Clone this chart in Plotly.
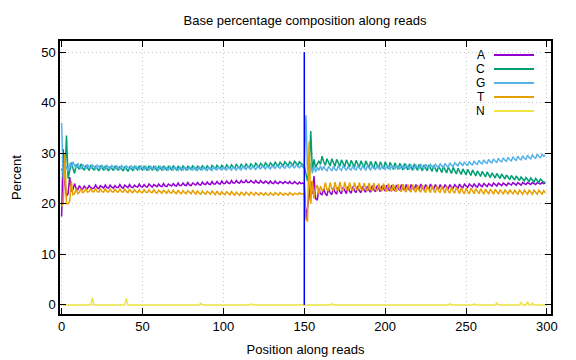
import plotly.graph_objects as go

positions = list(range(300))

A_pct = [
    17.5, 30.8, 24.0, 21.5, 22.0, 25.3, 22.5, 22.8, 24.0, 23.0,
    22.8, 23.6, 23.0, 22.9, 23.5, 23.1, 23.0, 23.6, 23.2, 23.0,
    23.1, 23.7, 23.2, 23.0, 23.6, 23.3, 23.1, 23.7, 23.2, 23.1,
    23.7, 23.3, 23.1, 23.6, 23.2, 23.2, 23.8, 23.3, 23.1, 23.7,
    23.4, 23.2, 23.8, 23.3, 23.2, 23.7, 23.4, 23.3, 23.9, 23.4,
    23.3, 23.8, 23.4, 23.3, 23.9, 23.5, 23.3, 23.8, 23.5, 23.4,
    23.9, 23.5, 23.4, 24.0, 23.5, 23.4, 23.9, 23.6, 23.5, 24.0,
    23.6, 23.5, 24.1, 23.6, 23.6, 24.1, 23.7, 23.6, 24.2, 23.7,
    23.6, 24.1, 23.8, 23.7, 24.2, 23.8, 23.7, 24.3, 23.9, 23.8,
    24.3, 23.9, 23.8, 24.4, 23.9, 23.9, 24.4, 24.0, 23.9, 24.5,
    24.0, 24.0, 24.5, 24.1, 24.0, 24.6, 24.1, 24.1, 24.6, 24.2,
    24.1, 24.6, 24.2, 24.2, 24.7, 24.2, 24.2, 24.6, 24.3, 24.1,
    24.6, 24.2, 24.1, 24.6, 24.2, 24.1, 24.5, 24.2, 24.0, 24.5,
    24.1, 24.0, 24.5, 24.1, 24.0, 24.4, 24.1, 24.0, 24.4, 24.1,
    24.0, 24.4, 24.0, 24.0, 24.4, 24.1, 23.9, 24.3, 24.0, 24.1,
    24.0, 17.0, 19.0, 21.5, 24.5, 22.0, 25.5, 21.0, 20.7, 23.0,
    22.0, 21.8, 23.0, 22.0, 21.6, 23.0, 22.2, 21.8, 23.2, 22.3,
    21.9, 23.3, 22.4, 22.0, 23.3, 22.5, 22.0, 23.4, 22.5, 22.1,
    23.4, 22.6, 22.2, 23.5, 22.6, 22.2, 23.5, 22.7, 22.3, 23.5,
    22.7, 22.3, 23.6, 22.8, 22.4, 23.6, 22.8, 22.4, 23.6, 22.9,
    22.5, 23.7, 22.9, 22.5, 23.7, 22.9, 22.6, 23.7, 23.0, 22.6,
    23.8, 23.0, 22.7, 23.8, 23.0, 22.7, 23.8, 23.1, 22.8, 23.8,
    23.1, 22.8, 23.9, 23.1, 22.8, 23.8, 23.2, 22.9, 23.9, 23.2,
    22.9, 23.8, 23.2, 22.9, 23.8, 23.2, 23.0, 23.8, 23.3, 23.0,
    23.8, 23.3, 23.1, 23.8, 23.4, 23.1, 23.9, 23.4, 23.2, 23.9,
    23.5, 23.2, 23.9, 23.5, 23.3, 24.0, 23.5, 23.3, 24.0, 23.6,
    23.4, 24.0, 23.6, 23.4, 24.0, 23.7, 23.5, 24.1, 23.7, 23.5,
    24.1, 23.8, 23.6, 24.1, 23.8, 23.6, 24.1, 23.8, 23.7, 24.2,
    23.9, 23.7, 24.2, 23.9, 23.7, 24.2, 24.0, 23.8, 24.2, 24.0,
    23.8, 24.2, 24.0, 23.8, 24.2, 24.0, 23.9, 24.2, 24.0, 24.1,
]

C_pct = [
    27.0, 26.0, 25.0, 33.5, 25.0, 26.5, 28.2, 27.0, 26.0, 27.8,
    27.2, 26.8, 27.9, 27.0, 26.7, 27.6, 27.1, 26.6, 27.7, 27.0,
    26.7, 27.5, 27.0, 26.5, 27.6, 27.1, 26.6, 27.5, 27.0, 26.5,
    27.4, 27.0, 26.6, 27.5, 27.1, 26.6, 27.4, 27.0, 26.5, 27.4,
    27.0, 26.4, 27.3, 27.0, 26.6, 27.4, 27.1, 26.7, 27.5, 27.0,
    26.6, 27.4, 27.0, 26.6, 27.5, 27.1, 26.7, 27.4, 27.0, 26.6,
    27.4, 27.1, 26.7, 27.5, 27.0, 26.6, 27.4, 27.1, 26.7, 27.5,
    27.1, 26.7, 27.4, 27.0, 26.7, 27.5, 27.1, 26.7, 27.4, 27.1,
    26.8, 27.5, 27.1, 26.7, 27.4, 27.1, 26.8, 27.5, 27.2, 26.8,
    27.5, 27.2, 26.8, 27.6, 27.2, 26.9, 27.6, 27.2, 26.9, 27.6,
    27.3, 26.9, 27.7, 27.3, 27.0, 27.7, 27.3, 27.0, 27.8, 27.4,
    27.0, 27.8, 27.4, 27.1, 27.9, 27.4, 27.1, 27.9, 27.5, 27.2,
    28.0, 27.5, 27.2, 28.0, 27.6, 27.3, 28.1, 27.6, 27.3, 28.1,
    27.7, 27.4, 28.2, 27.7, 27.4, 28.2, 27.8, 27.5, 28.3, 27.8,
    27.5, 28.3, 27.9, 27.6, 28.4, 27.9, 27.6, 28.3, 27.9, 27.7,
    27.5, 26.0, 24.5, 27.0, 34.4, 26.5, 28.8, 27.2, 28.0, 28.5,
    27.8, 29.4, 28.3, 27.6, 28.9, 28.2, 27.5, 28.9, 28.1, 27.4,
    28.8, 28.0, 27.4, 28.7, 28.0, 27.3, 28.7, 27.9, 27.3, 28.6,
    27.9, 27.2, 28.6, 27.8, 27.2, 28.5, 27.8, 27.1, 28.5, 27.7,
    27.1, 28.4, 27.7, 27.0, 28.4, 27.6, 27.0, 28.3, 27.6, 26.9,
    28.3, 27.5, 26.9, 28.2, 27.5, 26.8, 28.1, 27.4, 26.8, 28.0,
    27.4, 26.7, 28.0, 27.3, 26.7, 27.9, 27.3, 26.6, 27.9, 27.2,
    26.6, 27.8, 27.2, 26.5, 27.7, 27.1, 26.5, 27.7, 27.0, 26.4,
    27.6, 26.9, 26.3, 27.5, 26.8, 26.2, 27.4, 26.7, 26.1, 27.3,
    26.6, 26.0, 27.2, 26.5, 25.9, 27.0, 26.4, 25.8, 26.9, 26.3,
    25.7, 26.8, 26.1, 25.6, 26.7, 26.0, 25.5, 26.5, 25.9, 25.4,
    26.4, 25.8, 25.3, 26.3, 25.7, 25.2, 26.1, 25.5, 25.1, 26.0,
    25.4, 25.0, 25.9, 25.3, 24.9, 25.7, 25.2, 24.8, 25.6, 25.1,
    24.7, 25.5, 25.0, 24.6, 25.3, 24.9, 24.5, 25.2, 24.8, 24.4,
    25.1, 24.7, 24.3, 25.0, 24.6, 24.2, 24.9, 24.5, 24.2, 24.3,
]

G_pct = [
    36.0, 25.0, 26.0, 27.5, 26.5, 28.0, 27.2, 28.3, 27.6, 27.0,
    28.0, 27.3, 27.0, 27.8, 27.3, 26.9, 27.8, 27.2, 27.0, 27.7,
    27.3, 26.9, 27.7, 27.2, 26.9, 27.6, 27.2, 26.8, 27.6, 27.2,
    26.9, 27.6, 27.1, 26.8, 27.5, 27.2, 26.8, 27.6, 27.1, 26.8,
    27.5, 27.1, 26.8, 27.5, 27.1, 26.8, 27.5, 27.0, 26.8, 27.5,
    27.1, 26.8, 27.4, 27.0, 26.7, 27.4, 27.1, 26.8, 27.4, 27.0,
    26.7, 27.4, 27.0, 26.7, 27.3, 27.0, 26.7, 27.4, 27.0, 26.7,
    27.3, 26.9, 26.6, 27.3, 27.0, 26.7, 27.3, 26.9, 26.7, 27.3,
    27.0, 26.7, 27.3, 26.9, 26.6, 27.3, 27.0, 26.7, 27.3, 26.9,
    26.6, 27.2, 26.9, 26.6, 27.3, 27.0, 26.7, 27.3, 26.9, 26.7,
    27.3, 27.0, 26.7, 27.3, 26.9, 26.7, 27.3, 27.0, 26.7, 27.3,
    27.0, 26.7, 27.4, 27.0, 26.8, 27.4, 27.0, 26.8, 27.4, 27.1,
    26.8, 27.4, 27.1, 26.9, 27.5, 27.1, 26.9, 27.5, 27.2, 26.9,
    27.5, 27.2, 27.0, 27.6, 27.2, 27.0, 27.6, 27.3, 27.0, 27.6,
    27.3, 27.1, 27.7, 27.3, 27.1, 27.7, 27.4, 27.1, 27.6, 27.3,
    27.0, 37.5, 27.0, 25.5, 28.0, 26.0, 27.5, 26.3, 27.2, 26.6,
    27.5, 26.6, 27.4, 26.8, 26.5, 27.4, 26.8, 26.5, 27.4, 26.8,
    26.6, 27.5, 26.9, 26.6, 27.5, 26.9, 26.6, 27.4, 26.9, 26.7,
    27.5, 26.9, 26.7, 27.5, 27.0, 26.7, 27.5, 27.0, 26.7, 27.5,
    27.0, 26.7, 27.5, 27.0, 26.8, 27.5, 27.0, 26.8, 27.6, 27.1,
    26.8, 27.6, 27.1, 26.8, 27.6, 27.1, 26.9, 27.6, 27.1, 26.9,
    27.6, 27.2, 26.9, 27.7, 27.2, 26.9, 27.7, 27.2, 27.0, 27.7,
    27.2, 27.0, 27.8, 27.3, 27.0, 27.8, 27.3, 27.1, 27.8, 27.4,
    27.1, 27.9, 27.4, 27.2, 27.9, 27.5, 27.2, 28.0, 27.5, 27.3,
    28.1, 27.6, 27.4, 28.1, 27.7, 27.5, 28.2, 27.8, 27.6, 28.3,
    27.8, 27.6, 28.4, 27.9, 27.7, 28.5, 28.0, 27.8, 28.6, 28.1,
    27.9, 28.7, 28.2, 28.0, 28.8, 28.3, 28.1, 28.9, 28.4, 28.2,
    29.0, 28.5, 28.3, 29.1, 28.6, 28.4, 29.2, 28.7, 28.5, 29.3,
    28.8, 28.6, 29.4, 28.9, 28.7, 29.5, 29.0, 28.8, 29.6, 29.1,
    28.9, 29.7, 29.2, 29.0, 29.8, 29.3, 29.1, 29.8, 29.4, 29.6,
]

T_pct = [
    19.5, 20.0, 30.0, 20.0, 20.0, 20.5, 24.5, 21.8, 22.0, 23.0,
    22.0, 22.3, 23.0, 22.2, 22.4, 23.0, 22.3, 22.4, 23.0, 22.4,
    22.4, 23.0, 22.4, 22.3, 22.9, 22.4, 22.3, 23.0, 22.4, 22.3,
    22.9, 22.4, 22.3, 22.9, 22.4, 22.3, 22.9, 22.4, 22.3, 22.9,
    22.4, 22.2, 22.9, 22.4, 22.2, 22.8, 22.4, 22.2, 22.8, 22.3,
    22.2, 22.8, 22.3, 22.2, 22.8, 22.3, 22.2, 22.8, 22.3, 22.1,
    22.7, 22.3, 22.1, 22.7, 22.3, 22.1, 22.7, 22.2, 22.1, 22.7,
    22.2, 22.0, 22.7, 22.2, 22.0, 22.6, 22.2, 22.0, 22.6, 22.2,
    22.0, 22.6, 22.2, 21.9, 22.6, 22.1, 21.9, 22.5, 22.1, 21.9,
    22.5, 22.1, 21.9, 22.5, 22.1, 21.8, 22.5, 22.0, 21.8, 22.4,
    22.0, 21.8, 22.4, 22.0, 21.8, 22.4, 22.0, 21.7, 22.3, 21.9,
    21.7, 22.3, 21.9, 21.7, 22.3, 21.9, 21.7, 22.3, 21.9, 21.7,
    22.2, 21.9, 21.7, 22.2, 21.9, 21.7, 22.2, 21.8, 21.7, 22.2,
    21.9, 21.7, 22.2, 21.9, 21.7, 22.2, 21.9, 21.7, 22.1, 21.9,
    21.7, 22.2, 21.9, 21.7, 22.1, 21.9, 21.8, 22.2, 21.9, 22.0,
    22.0, 17.0, 16.5, 32.3, 20.0, 24.5, 21.0, 23.0, 23.7, 22.0,
    23.5, 22.6, 22.8, 24.2, 22.8, 22.6, 24.2, 22.9, 22.6, 24.3,
    22.9, 22.6, 24.3, 23.0, 22.6, 24.3, 23.0, 22.6, 24.2, 23.0,
    22.6, 24.2, 23.0, 22.6, 24.2, 23.0, 22.6, 24.1, 23.0, 22.5,
    24.1, 22.9, 22.5, 24.1, 22.9, 22.5, 24.0, 22.9, 22.5, 24.0,
    22.9, 22.4, 24.0, 22.9, 22.4, 23.9, 22.8, 22.4, 23.9, 22.8,
    22.4, 23.9, 22.8, 22.3, 23.8, 22.8, 22.3, 23.8, 22.7, 22.3,
    23.7, 22.7, 22.3, 23.7, 22.7, 22.2, 23.6, 22.7, 22.2, 23.6,
    22.6, 22.2, 23.5, 22.6, 22.2, 23.5, 22.6, 22.1, 23.4, 22.5,
    22.1, 23.3, 22.5, 22.1, 23.3, 22.5, 22.0, 23.2, 22.4, 22.0,
    23.1, 22.4, 22.0, 23.1, 22.4, 22.0, 23.0, 22.4, 22.0, 23.0,
    22.3, 21.9, 22.9, 22.3, 21.9, 22.9, 22.3, 21.9, 22.9, 22.3,
    21.9, 22.8, 22.3, 21.9, 22.8, 22.2, 21.9, 22.8, 22.2, 21.9,
    22.7, 22.2, 21.9, 22.7, 22.2, 21.9, 22.7, 22.2, 21.9, 22.7,
    22.2, 21.9, 22.7, 22.2, 21.9, 22.7, 22.2, 21.9, 22.6, 22.2,
]

N_peak_positions = [19, 40, 86, 117, 167, 240, 255, 269, 284, 288, 291]
N_peak_values = [1.4, 1.3, 0.3, 0.15, 0.25, 0.25, 0.2, 0.4, 0.5, 0.6, 0.3]
N_pct = [0.0] * len(positions)
for p, v in zip(N_peak_positions, N_peak_values):
    N_pct[p] = v

read_boundary_x = [150, 150]
read_boundary_y = [0, 50]

bases = ["A", "C", "G", "T", "N"]
series = [A_pct, C_pct, G_pct, T_pct, N_pct]
colors = ["#9400d3", "#009e73", "#56b4e9", "#e69f00", "#f0e442"]

fig = go.Figure()
for name, vals, col in zip(bases, series, colors):
    fig.add_trace(go.Scatter(x=positions, y=vals, mode="lines", name=name,
                             line=dict(color=col, width=1.5), showlegend=False))
fig.add_trace(go.Scatter(x=read_boundary_x, y=read_boundary_y, mode="lines",
                         line=dict(color="#0000ff", width=1.5), showlegend=False))

# the page body has an 8px margin, so the figure is sized to fit inside it
W, H = 568, 352
ML, MR, MT, MB = 52, 25, 33, 46
plot_w = W - ML - MR
plot_h = H - MT - MB

# gnuplot-style key: label on the left, line sample on the right
for i, (name, col) in enumerate(zip(bases, colors)):
    yk = 1 - (14 + 14 * i) / plot_h
    fig.add_annotation(x=(487 - 60) / plot_w, y=yk, xref="paper", yref="paper", text=name,
                       showarrow=False, xanchor="right", yanchor="middle",
                       font=dict(size=12, color="black"))
    fig.add_shape(type="line", xref="paper", yref="paper",
                  x0=(494 - 60) / plot_w, x1=(534 - 60) / plot_w, y0=yk, y1=yk,
                  line=dict(color=col, width=2))

axis_common = dict(
    showline=True, linecolor="black", linewidth=1.5, mirror="allticks",
    ticks="inside", ticklen=6, tickcolor="black", tickwidth=1,
    showgrid=True, gridcolor="#c8c8c8", griddash="1px,3px", gridwidth=1,
    zeroline=False, tickfont=dict(size=13, color="black"), automargin=False,
)

fig.update_layout(
    width=W, height=H,
    margin=dict(l=ML, r=MR, t=MT, b=MB, autoexpand=False),
    paper_bgcolor="white", plot_bgcolor="white",
    font=dict(family="Liberation Sans, Arial, sans-serif", size=13, color="black"),
    title=dict(text="Base percentage composition along reads", x=(305 - 8) / W, xanchor="center",
               y=1 - 12 / H, yanchor="middle", font=dict(size=13)),
    xaxis=dict(range=[-1, 302.5], tickvals=[0, 50, 100, 150, 200, 250, 300],
               title=dict(text="Position along reads", standoff=12, font=dict(size=13)),
               **axis_common),
    yaxis=dict(range=[-1.8, 52.2], tickvals=[0, 10, 20, 30, 40, 50],
               title=dict(text="Percent", standoff=17, font=dict(size=13)),
               **axis_common),
)

fig.write_html("out.html")
